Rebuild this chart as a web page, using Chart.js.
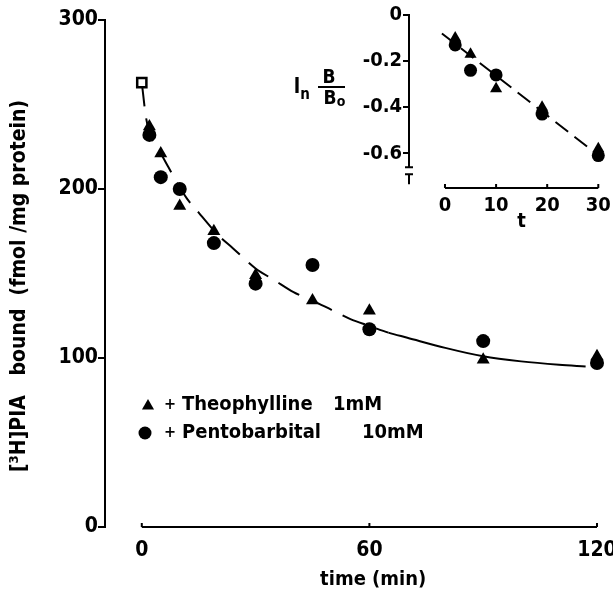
<!DOCTYPE html>
<html><head><meta charset="utf-8">
<script src="https://cdn.jsdelivr.net/npm/chart.js@4.4.0/dist/chart.umd.min.js"></script>
<style>
html,body{margin:0;padding:0;background:#fff;}
#wrap{position:relative;width:613px;height:597px;overflow:hidden;}
#main{position:absolute;left:0;top:0;}
#inset{position:absolute;left:270px;top:0;}
</style></head><body>
<div id="wrap">
<canvas id="main" width="613" height="597"></canvas>
<canvas id="inset" width="343" height="235"></canvas>
</div>
<script>
// ---- data ----
const timeTicks = [0, 60, 120];
const boundTicks = [0, 100, 200, 300];
const controlT = [0];
const controlB = [263];
const theoT = [2, 5, 10, 19, 30, 45, 60, 90, 120];
const theoB = [237, 221, 190, 175, 149, 134, 128, 99, 101];
const pentoT = [2, 5, 10, 19, 30, 45, 60, 90, 120];
const pentoB = [232, 207, 200, 168, 144, 155, 117, 110, 97];
const curveT = [0, 1, 2, 3, 5, 7, 10, 12, 15, 18, 20, 24, 30, 35, 40, 45, 50, 55, 60, 65, 70, 80, 90, 100, 110, 117];
const curveB = [263, 244, 233, 228, 221, 213, 201, 194, 186, 178, 173, 165, 153, 146, 139, 134, 128.5, 123, 119, 115, 112, 106, 101, 98, 96, 95];
const legendLabels = ['+', 'Theophylline', '1mM', 'Pentobarbital', '10mM'];

const insetTimeTicks = [0, 10, 20, 30];
const insetLnTicks = [0, -0.2, -0.4, -0.6];
const insetTheoT = [2, 5, 10, 19, 30];
const insetTheoLn = [-0.10, -0.17, -0.32, -0.40, -0.58];
const insetPentoT = [2, 5, 10, 19, 30];
const insetPentoLn = [-0.13, -0.24, -0.26, -0.43, -0.61];
const insetLineT = [-0.6, 29.5];
const insetLineLn = [-0.08, -0.60];

const F = "'DejaVu Sans Condensed', 'DejaVu Sans', sans-serif";
const pts = (xs, ys) => xs.map((x, i) => ({x: x, y: ys[i]}));

// ---- main chart decorations ----
const mainDecor = {
  id: 'mainDecor',
  afterDraw(chart) {
    const ctx = chart.ctx, xs = chart.scales.x, ys = chart.scales.y;
    ctx.save();
    ctx.strokeStyle = '#000'; ctx.fillStyle = '#000'; ctx.lineWidth = 2;
    const y0 = ys.getPixelForValue(0);
    ctx.beginPath();
    ctx.moveTo(xs.getPixelForValue(0), y0);
    ctx.lineTo(xs.getPixelForValue(120), y0);
    timeTicks.forEach(v => { const px = xs.getPixelForValue(v); ctx.moveTo(px, y0); ctx.lineTo(px, y0 - 4); });
    ctx.stroke();
    ctx.font = "bold 20px " + F; ctx.textAlign = 'center'; ctx.textBaseline = 'middle';
    ctx.fillText('time (min)', xs.getPixelForValue(61), 580);
    ctx.save();
    ctx.translate(20, 286); ctx.rotate(-Math.PI / 2);
    ctx.font = "bold 21px " + F;
    ctx.fillText('[³H]PIA   bound  (fmol /mg protein)', 0, 0);
    ctx.restore();
    Chart.helpers.drawPoint(ctx, {pointStyle: 'triangle', radius: 7, rotation: 0, borderWidth: 0}, 148, 406);
    Chart.helpers.drawPoint(ctx, {pointStyle: 'circle', radius: 6.5, rotation: 0, borderWidth: 0}, 145, 433);
    ctx.textAlign = 'center';
    ctx.font = "bold 16px " + F;
    ctx.fillText(legendLabels[0], 170, 405);
    ctx.fillText(legendLabels[0], 170, 433);
    ctx.textAlign = 'left';
    ctx.font = "bold 20px " + F;
    ctx.fillText(legendLabels[1], 182, 405);
    ctx.fillText(legendLabels[2], 333, 405);
    ctx.fillText(legendLabels[3], 182, 433);
    ctx.fillText(legendLabels[4], 362, 433);
    ctx.restore();
  }
};

new Chart(document.getElementById('main'), {
  type: 'scatter',
  data: {
    datasets: [
      {label: 'fit', data: pts(curveT, curveB), showLine: true, pointRadius: 0, borderColor: '#000', borderWidth: 2,
       cubicInterpolationMode: 'monotone', order: 5, clip: false,
       segment: {borderDash: c => c.p0.parsed.x < 62 ? [24, 12] : undefined}},
      {label: 'control', data: pts(controlT, controlB), pointStyle: 'rect', pointRadius: 6.5, backgroundColor: '#fff', borderColor: '#000', borderWidth: 2.5, order: 0, clip: false},
      {label: 'Theophylline', data: pts(theoT, theoB), pointStyle: 'triangle', pointRadius: 7.5, backgroundColor: '#000', borderColor: '#000', borderWidth: 0, order: 1, clip: false},
      {label: 'Pentobarbital', data: pts(pentoT, pentoB), pointStyle: 'circle', pointRadius: 7, backgroundColor: '#000', borderColor: '#000', borderWidth: 0, order: 2, clip: false}
    ]
  },
  options: {
    responsive: false, animation: false, events: [],
    layout: {padding: {top: 20, right: 16, left: 0, bottom: 0}},
    plugins: {legend: {display: false}, tooltip: {enabled: false}},
    scales: {
      x: {type: 'linear', min: -9.7, max: 120,
          afterBuildTicks: s => { s.ticks = timeTicks.map(v => ({value: v})); },
          afterFit: s => { s.height = 70; s.paddingLeft = 0; s.paddingRight = 0; },
          border: {display: false}, grid: {display: false, drawTicks: false},
          ticks: {color: '#000', font: {family: F, size: 21, weight: 'bold'}, padding: 11, maxRotation: 0, autoSkip: false}},
      y: {type: 'linear', min: 0, max: 300,
          afterBuildTicks: s => { s.ticks = boundTicks.map(v => ({value: v})); },
          afterFit: s => { s.width = 105; s.paddingTop = 0; s.paddingBottom = 0; },
          border: {display: true, color: '#000', width: 2},
          grid: {display: true, drawOnChartArea: false, drawTicks: true, tickLength: 7, color: '#000', lineWidth: 2},
          ticks: {color: '#000', font: {family: F, size: 21, weight: 'bold'}, padding: 0}}
    }
  },
  plugins: [mainDecor]
});

// ---- inset decorations ----
const insetDecor = {
  id: 'insetDecor',
  afterDraw(chart) {
    const ctx = chart.ctx, xs = chart.scales.x, ys = chart.scales.y;
    const ax = chart.chartArea.left;
    ctx.save();
    ctx.strokeStyle = '#000'; ctx.fillStyle = '#000'; ctx.lineWidth = 2;
    const yEnd = ys.getPixelForValue(-0.66);
    ctx.beginPath();
    ctx.moveTo(ax, ys.getPixelForValue(0) - 1);
    ctx.lineTo(ax, yEnd);
    ctx.moveTo(ax - 4, yEnd); ctx.lineTo(ax + 4, yEnd);
    ctx.moveTo(ax - 4, yEnd + 7); ctx.lineTo(ax + 4, yEnd + 7);
    ctx.moveTo(ax, yEnd + 7); ctx.lineTo(ax, yEnd + 17);
    const yb = chart.chartArea.bottom;
    ctx.moveTo(xs.getPixelForValue(0), yb);
    ctx.lineTo(xs.getPixelForValue(30), yb);
    insetTimeTicks.forEach(v => { const px = xs.getPixelForValue(v); ctx.moveTo(px, yb); ctx.lineTo(px, yb - 4); });
    ctx.stroke();
    ctx.font = "bold 20px " + F; ctx.textAlign = 'center'; ctx.textBaseline = 'middle';
    ctx.fillText('t', xs.getPixelForValue(15), 222);
    ctx.font = "bold 21px " + F;
    ctx.fillText('l', 27, 88);
    ctx.font = "bold 15px " + F;
    ctx.fillText('n', 35, 95);
    ctx.font = "bold 19px " + F;
    ctx.fillText('B', 59, 78);
    ctx.fillText('B', 60, 99);
    ctx.font = "bold 14px " + F;
    ctx.fillText('o', 71, 102);
    ctx.beginPath();
    ctx.moveTo(48, 87); ctx.lineTo(75, 87);
    ctx.stroke();
    ctx.restore();
  }
};

new Chart(document.getElementById('inset'), {
  type: 'scatter',
  data: {
    datasets: [
      {label: 'lnfit', data: pts(insetLineT, insetLineLn), showLine: true, pointRadius: 0, borderColor: '#000', borderWidth: 2, borderDash: [16, 8], order: 5, clip: false},
      {label: 'Theophylline', data: pts(insetTheoT, insetTheoLn), pointStyle: 'triangle', pointRadius: 7, backgroundColor: '#000', borderWidth: 0, order: 1, clip: false},
      {label: 'Pentobarbital', data: pts(insetPentoT, insetPentoLn), pointStyle: 'circle', pointRadius: 6.5, backgroundColor: '#000', borderWidth: 0, order: 2, clip: false}
    ]
  },
  options: {
    responsive: false, animation: false, events: [],
    layout: {padding: {top: 15, right: 14.7, left: 0, bottom: 0}},
    plugins: {legend: {display: false}, tooltip: {enabled: false}},
    scales: {
      x: {type: 'linear', min: -7.04, max: 30,
          afterBuildTicks: s => { s.ticks = insetTimeTicks.map(v => ({value: v})); },
          afterFit: s => { s.height = 47; s.paddingLeft = 0; s.paddingRight = 0; },
          border: {display: false}, grid: {display: false, drawTicks: false},
          ticks: {color: '#000', font: {family: F, size: 20, weight: 'bold'}, padding: 6, maxRotation: 0, autoSkip: false}},
      y: {type: 'linear', min: -0.7505, max: 0,
          afterBuildTicks: s => { s.ticks = insetLnTicks.map(v => ({value: v})); },
          afterFit: s => { s.width = 139; s.paddingTop = 0; s.paddingBottom = 0; },
          border: {display: false},
          grid: {display: true, drawOnChartArea: false, drawTicks: true, tickLength: 6, color: '#000', lineWidth: 2},
          ticks: {color: '#000', font: {family: F, size: 20, weight: 'bold'}, padding: 1,
                  callback: v => v === 0 ? '0' : v.toFixed(1)}}
    }
  },
  plugins: [insetDecor]
});
</script>
</body></html>
